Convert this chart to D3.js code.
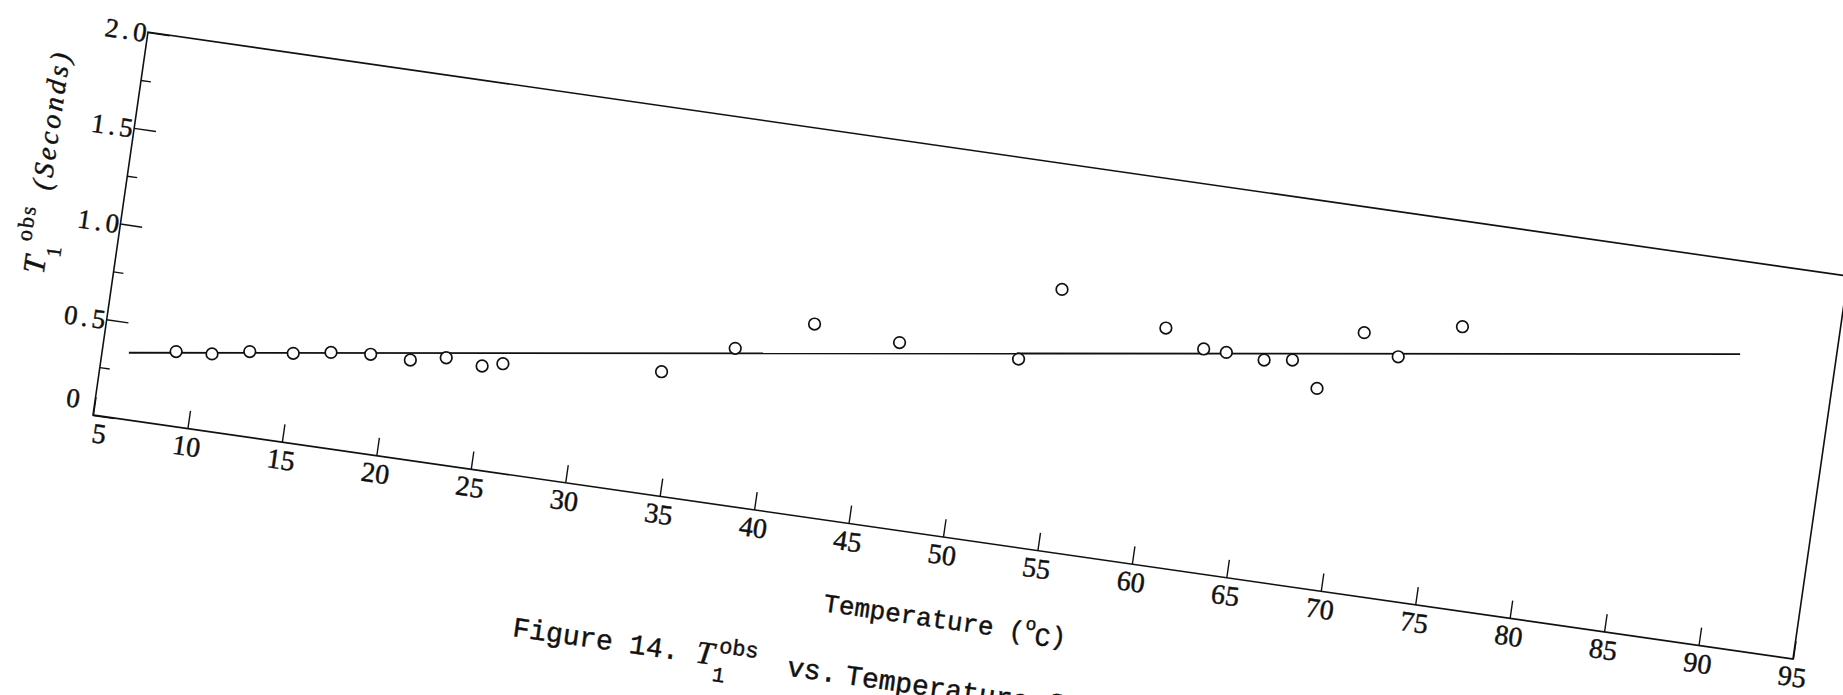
<!DOCTYPE html>
<html>
<head>
<meta charset="utf-8">
<script src="https://cdn.jsdelivr.net/npm/d3@7"></script>
<style>
  html, body { margin: 0; padding: 0; background: #fff; }
  svg { display: block; }
  text { stroke: #111; stroke-width: 0.45px; }
</style>
</head>
<body>
<svg id="chart" width="1843" height="695"></svg>
<script>
// Measurement temperatures (°C)
const temperatures = [9.4, 11.3, 13.3, 15.6, 17.6, 19.7, 21.8, 23.7, 25.6, 26.7,
                      35.1, 39.0, 43.2, 47.7, 54.0, 56.3, 61.8, 63.8, 65.0, 67.0,
                      68.5, 69.8, 72.3, 74.1, 77.5];
// Observed T1 (seconds) at each temperature
const t1Observed = [0.331, 0.319, 0.331, 0.322, 0.327, 0.317, 0.287, 0.299, 0.256, 0.268,
                    0.226, 0.348, 0.475, 0.378, 0.292, 0.656, 0.454, 0.345, 0.327, 0.287,
                    0.287, 0.139, 0.430, 0.304, 0.461];
// End points of the fitted line
const fitTemperatures = [6.9, 92.2];
const fitValues = [0.325, 0.318];

// Axis ticks
const xTickValues = [5, 10, 15, 20, 25, 30, 35, 40, 45, 50, 55, 60, 65, 70, 75, 80, 85, 90, 95];
const yTickValues = [0, 0.5, 1.0, 1.5, 2.0];
const yTickLabels = ["0", "0.5", "1.0", "1.5", "2.0"];
const yMinorTicks = [0.25, 0.75, 1.25, 1.75];

const ink = "#111";
const serif = "'Liberation Serif', 'DejaVu Serif', serif";
const mono = "'Liberation Mono', 'DejaVu Sans Mono', monospace";

const svg = d3.select("#chart");

// ---- Plot frame, tilted on the page ----
const W = 1717.4, H = 386.8, tilt = 8.168;
const frame = svg.append("g")
  .attr("transform", `translate(93,415) rotate(${tilt}) translate(0,${-H})`);

const x = d3.scaleLinear().domain([5, 95]).range([0, W]);
const y = d3.scaleLinear().domain([0, 2]).range([H, 0]);

frame.append("rect")
  .attr("width", W).attr("height", H)
  .attr("fill", "none").attr("stroke", ink).attr("stroke-width", 1.6);

// Bottom axis: inward ticks every 5 °C
const xAxisG = frame.append("g")
  .attr("transform", `translate(0,${H})`)
  .call(d3.axisBottom(x).tickValues(xTickValues).tickSize(-18).tickSizeOuter(0).tickFormat(d3.format("d")));
xAxisG.select(".domain").remove();
xAxisG.selectAll(".tick line").attr("stroke", ink).attr("stroke-width", 1.4);
xAxisG.selectAll(".tick text")
  .attr("y", 27).attr("dy", null)
  .attr("x", d => d === 5 ? 8 : 1)
  .attr("fill", ink)
  .style("font-family", serif).style("font-size", "28px");

// Left axis: major and minor inward ticks
const yAxisG = frame.append("g")
  .call(d3.axisLeft(y).tickValues(yTickValues).tickSize(-22).tickSizeOuter(0)
    .tickFormat((d, i) => yTickLabels[i]));
yAxisG.select(".domain").remove();
yAxisG.selectAll(".tick line").attr("stroke", ink).attr("stroke-width", 1.4);
yAxisG.selectAll(".tick text")
  .attr("x", -20).attr("dy", "0.35em")
  .attr("y", d => d === 0 ? -15 : 0)
  .attr("text-anchor", "middle")
  .attr("fill", ink)
  .style("letter-spacing", "4px")
  .style("font-family", serif).style("font-size", "27px");

const yMinorG = frame.append("g")
  .call(d3.axisLeft(y).tickValues(yMinorTicks).tickSize(-10).tickSizeOuter(0).tickFormat(""));
yMinorG.select(".domain").remove();
yMinorG.selectAll(".tick line").attr("stroke", ink).attr("stroke-width", 1.4);

// Y axis title: T1^obs (Seconds)
const yTitle = frame.append("text")
  .attr("transform", "translate(-69,255) rotate(-90)")
  .attr("fill", ink).style("font-family", serif);
yTitle.append("tspan").attr("x", 0).attr("y", 0)
  .style("font-style", "italic").style("font-size", "31px").text("T");
yTitle.append("tspan").attr("x", 19).attr("y", 14)
  .style("font-size", "21px").text("1");
yTitle.append("tspan").attr("x", 31).attr("y", -17)
  .style("font-size", "22px").style("letter-spacing", "2px").text("obs");
yTitle.append("tspan").attr("x", 84).attr("y", -5)
  .attr("textLength", 138).attr("lengthAdjust", "spacing")
  .style("font-style", "italic").style("font-size", "28px").text("(Seconds)");

// X axis title: Temperature (°C)
const xTitle = frame.append("text")
  .attr("x", 750).attr("y", H + 90.5)
  .attr("fill", ink).style("font-family", mono).style("font-size", "26px");
xTitle.append("tspan").text("Temperature (");
xTitle.append("tspan").attr("dy", -11).style("font-size", "18px").text("o");
xTitle.append("tspan").attr("dy", 14).text("C");
xTitle.append("tspan").attr("dy", -3).text(")");

// Figure caption
const capY = H + 159.3, capX = 446, ch = 16.8;
const caption = frame.append("text")
  .attr("fill", ink).style("font-family", mono).style("font-size", "28px");
caption.append("tspan").attr("x", capX).attr("y", capY).text("Figure 14.");
caption.append("tspan").attr("x", capX + 11 * ch).attr("y", capY)
  .style("font-family", serif).style("font-style", "italic").style("font-size", "32px").text("T");
caption.append("tspan").attr("x", capX + 11 * ch + 19).attr("y", capY + 16)
  .style("font-size", "21px").text("1");
caption.append("tspan").attr("x", capX + 11 * ch + 22).attr("y", capY - 13)
  .style("font-size", "22px").text("obs");
caption.append("tspan").attr("x", capX + 16.5 * ch).attr("y", capY).text("vs.");
caption.append("tspan").attr("x", capX + 20 * ch).attr("y", capY).text("Temperature for");

// ---- Data layer (level on the page) ----
const dx = d3.scaleLinear().domain([5, 95]).range([93, 1793]);
const dy = d3.scaleLinear().domain([0, 2]).range([415, 32]);

const fit = fitTemperatures.map((t, i) => [t, fitValues[i]]);
svg.append("path")
  .datum(fit)
  .attr("d", d3.line().x(d => dx(d[0])).y(d => dy(d[1])))
  .attr("fill", "none").attr("stroke", ink).attr("stroke-width", 1.8);

svg.append("g").selectAll("circle")
  .data(temperatures.map((t, i) => [t, t1Observed[i]]))
  .join("circle")
  .attr("cx", d => dx(d[0]))
  .attr("cy", d => dy(d[1]))
  .attr("r", 5.8)
  .attr("fill", "#fff").attr("stroke", ink).attr("stroke-width", 1.7);
</script>
</body>
</html>
